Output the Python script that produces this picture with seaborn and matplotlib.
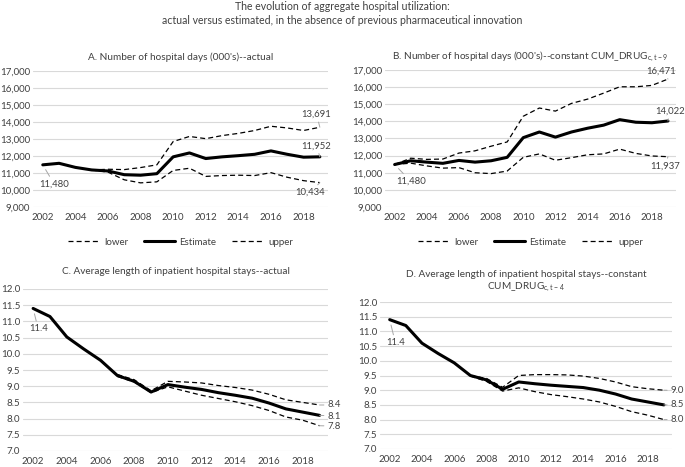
import matplotlib
matplotlib.use('Agg')
import matplotlib.pyplot as plt
import seaborn as sns
from matplotlib.ticker import FuncFormatter, MultipleLocator

# Years
years = list(range(2002, 2020))

# A. Number of hospital days (000's) -- actual
a_est = [11480, 11570, 11330, 11180, 11120, 10900, 10870, 10960, 11950, 12180,
         11850, 11950, 12020, 12100, 12300, 12100, 11930, 11952]
a_years_ci = list(range(2005, 2020))
a_upper = [11180, 11220, 11200, 11320, 11480, 12850, 13150, 13020, 13200, 13330,
           13500, 13750, 13650, 13500, 13691]
a_lower = [11180, 11050, 10600, 10420, 10480, 11150, 11280, 10800, 10850, 10870,
           10850, 11020, 10750, 10550, 10434]

# B. Number of hospital days (000's) -- constant CUM_DRUG c,t-9
b_est = [11480, 11700, 11620, 11550, 11720, 11620, 11700, 11900, 13050, 13380,
         13080, 13380, 13600, 13780, 14100, 13950, 13920, 14022]
b_upper = [11480, 11850, 11780, 11800, 12150, 12280, 12550, 12800, 14300, 14780,
           14600, 15050, 15300, 15650, 16020, 16020, 16100, 16471]
b_lower = [11480, 11560, 11400, 11270, 11300, 11000, 10950, 11100, 11900, 12100,
           11730, 11880, 12050, 12100, 12380, 12130, 11980, 11937]

# C. Average length of inpatient hospital stays -- actual
c_est = [11.4, 11.15, 10.52, 10.15, 9.8, 9.33, 9.15, 8.82, 9.05, 8.97,
         8.9, 8.8, 8.72, 8.63, 8.48, 8.3, 8.2, 8.1]
c_years_ci = list(range(2007, 2020))
c_upper = [9.36, 9.2, 8.86, 9.15, 9.13, 9.1, 9.02, 8.96, 8.88, 8.75, 8.58, 8.5, 8.42]
c_lower = [9.3, 9.13, 8.8, 8.98, 8.85, 8.72, 8.62, 8.52, 8.4, 8.25, 8.05, 7.95, 7.78]

# D. Average length of inpatient hospital stays -- constant CUM_DRUG c,t-4
d_est = [11.4, 11.2, 10.6, 10.25, 9.93, 9.5, 9.35, 9.03, 9.28, 9.22,
         9.17, 9.13, 9.09, 9.0, 8.87, 8.7, 8.6, 8.5]
d_years_ci = list(range(2007, 2020))
d_upper = [9.5, 9.4, 9.1, 9.5, 9.53, 9.53, 9.52, 9.48, 9.4, 9.28, 9.12, 9.05, 9.0]
d_lower = [9.48, 9.3, 8.97, 9.08, 8.95, 8.85, 8.78, 8.7, 8.6, 8.45, 8.27, 8.15, 8.0]

sns.set_style('white')
plt.rcParams['font.family'] = ['Lato', 'DejaVu Sans']

W, H = 685, 467
fig = plt.figure(figsize=(6.85, 4.67), dpi=100)

def box(x0, x1, ytop, ybot):
    return [x0 / W, 1 - ybot / H, (x1 - x0) / W, (ybot - ytop) / H]

axA = fig.add_axes(box(33, 328, 71, 207))
axB = fig.add_axes(box(385, 676, 70, 207))
axC = fig.add_axes(box(23, 328, 289, 451))
axD = fig.add_axes(box(380, 672, 302, 449))

txt = '#404040'
grid = '#d9d9d9'
lead = '#a6a6a6'


def draw(ax, yrs_ci, lower, est, upper):
    sns.lineplot(x=yrs_ci, y=lower, ax=ax, color='black', lw=0.9, linestyle=(0, (4, 2.5)), label='lower')
    sns.lineplot(x=years, y=est, ax=ax, color='black', lw=2.2, label='Estimate')
    sns.lineplot(x=yrs_ci, y=upper, ax=ax, color='black', lw=0.9, linestyle=(0, (4, 2.5)), label='upper')
    ax.set_xlim(2001.4, 2019.5)
    ax.set_xticks(range(2002, 2019, 2))
    ax.grid(axis='y', color=grid, lw=0.8)
    ax.set_axisbelow(True)
    for s in ax.spines.values():
        s.set_visible(False)
    ax.tick_params(axis='x', length=0, labelsize=7, labelcolor=txt, pad=4)
    ax.tick_params(axis='y', length=0, labelsize=7, labelcolor=txt, pad=2)


def note(ax, text, xy, xytext, ha='center'):
    ax.annotate(text, xy=xy, xytext=xytext, ha=ha, va='center', fontsize=6.8, color=txt,
                annotation_clip=False,
                arrowprops=dict(arrowstyle='-', color=lead, lw=0.7, shrinkA=0, shrinkB=4))


draw(axA, a_years_ci, a_lower, a_est, a_upper)
draw(axB, years, b_lower, b_est, b_upper)
draw(axC, c_years_ci, c_lower, c_est, c_upper)
draw(axD, d_years_ci, d_lower, d_est, d_upper)

for ax in (axA, axB):
    ax.set_ylim(9000, 17000)
    ax.yaxis.set_major_locator(MultipleLocator(1000))
    ax.yaxis.set_major_formatter(FuncFormatter(lambda v, p: f'{v:,.0f}'))
    ax.legend(loc='upper center', bbox_to_anchor=(0.5, -0.16), ncol=3, frameon=False,
              fontsize=7, handlelength=3.2, handletextpad=0.5, columnspacing=1.6, labelcolor=txt)
for ax in (axC, axD):
    ax.set_ylim(7.0, 12.0)
    ax.yaxis.set_major_locator(MultipleLocator(0.5))
    ax.yaxis.set_major_formatter(FuncFormatter(lambda v, p: f'{v:.1f}'))
    ax.get_legend().remove()

axA.set_title("A. Number of hospital days (000's)--actual", fontsize=7.2, color=txt, pad=8)
axB.set_title(r"B. Number of hospital days (000's)--constant CUM_DRUG$_{\mathregular{c,t-9}}$",
              fontsize=7.2, color=txt, pad=8)
axC.set_title('C. Average length of inpatient hospital stays--actual', fontsize=7.2, color=txt, pad=11)
axD.set_title('D. Average length of inpatient hospital stays--constant\n'
              r'CUM_DRUG$_{\mathregular{c,t-4}}$', fontsize=7.2, color=txt, pad=9, linespacing=1.2)

fig.text(0.5, 1 - 6 / H, 'The evolution of aggregate hospital utilization:', ha='center', va='center',
         fontsize=7.6, color=txt)
fig.text(0.5, 1 - 20 / H, 'actual versus estimated, in the absence of previous pharmaceutical innovation',
         ha='center', va='center', fontsize=7.6, color=txt)

# value labels
note(axA, '11,480', (2002, a_est[0]), (2002.7, 10350))
note(axA, '13,691', (2019, a_upper[-1]), (2018.8, 14450))
note(axA, '11,952', (2019, a_est[-1]), (2018.8, 12600))
note(axA, '10,434', (2019, a_lower[-1]), (2018.4, 9850))

note(axB, '11,480', (2002, b_est[0]), (2003.0, 10500))
note(axB, '16,471', (2019, b_upper[-1]), (2018.6, 16950))
note(axB, '14,022', (2019, b_est[-1]), (2019.1, 14600))
note(axB, '11,937', (2019, b_lower[-1]), (2018.8, 11400))

note(axC, '11.4', (2002, c_est[0]), (2002.3, 10.77))
note(axC, '8.4', (2019, c_upper[-1]), (2019.45, 8.42), ha='left')
note(axC, '8.1', (2019, c_est[-1]), (2019.45, 8.08), ha='left')
note(axC, '7.8', (2019, c_lower[-1]), (2019.45, 7.77), ha='left')

note(axD, '11.4', (2002, d_est[0]), (2002.35, 10.62))
note(axD, '9.0', (2019, d_upper[-1]), (2019.4, 8.99), ha='left')
note(axD, '8.5', (2019, d_est[-1]), (2019.4, 8.5), ha='left')
note(axD, '8.0', (2019, d_lower[-1]), (2019.4, 8.0), ha='left')

fig.savefig('out.png', dpi=100)
